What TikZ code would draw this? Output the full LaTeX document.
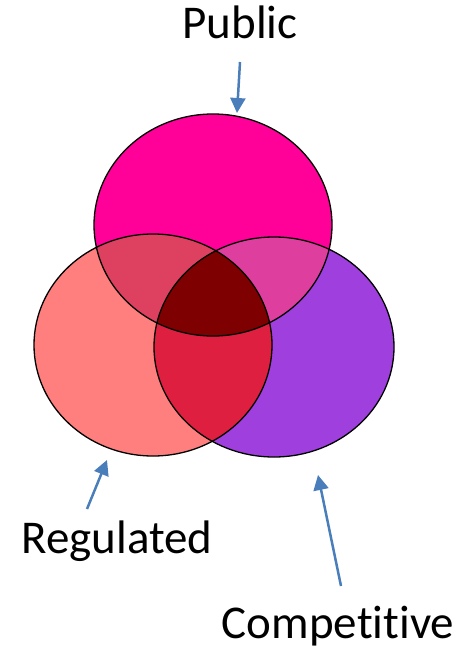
\documentclass[tikz,border=0pt]{standalone}
\usepackage{fontspec}
\setmainfont{Carlito}[Ligatures={NoCommon}]
\usetikzlibrary{arrows.meta}
\definecolor{cTop}{HTML}{FF0099}
\definecolor{cLeft}{HTML}{FF7F7F}
\definecolor{cRight}{HTML}{9E3FDE}
\definecolor{cTL}{HTML}{DE4160}
\definecolor{cTR}{HTML}{DE3F9E}
\definecolor{cLR}{HTML}{DE1F3F}
\definecolor{cAll}{HTML}{7F0000}
\definecolor{arrowblue}{HTML}{4A7EBB}
\tikzset{
  lbl/.style={font=\fontsize{47}{52}\selectfont, text=black, inner sep=0pt},
  pointer/.style={draw=arrowblue, line width=2.5pt, -{Triangle[length=15pt,width=15pt]}},
  outline/.style={draw=black, line width=1.3pt}
}
\begin{document}
\begin{tikzpicture}[x=1pt,y=-1pt]
\useasboundingbox (0,0) rectangle (463,650);
\def\Top{(213,225) ellipse [x radius=119, y radius=111]}
\def\Lft{(153,345) ellipse [x radius=119, y radius=111]}
\def\Rgt{(274,347) ellipse [x radius=120, y radius=110]}
\fill[cTop] \Top;
\fill[cLeft] \Lft;
\fill[cRight] \Rgt;
\begin{scope}
  \clip \Top;
  \fill[cTL] \Lft;
  \fill[cTR] \Rgt;
\end{scope}
\begin{scope}
  \clip \Lft;
  \fill[cLR] \Rgt;
\end{scope}
\begin{scope}
  \clip \Top;
  \clip \Lft;
  \fill[cAll] \Rgt;
\end{scope}
\draw[outline] \Top;
\draw[outline] \Lft;
\draw[outline] \Rgt;
\node[lbl, anchor=base] (pub) at (240,39) {Public};
\node[lbl, anchor=base] (reg) at (117,553) {Regulated};
\node[lbl, anchor=base] (comp) at (338,638) {Competitive};
\coordinate (pubS) at (240,62);
\coordinate (pubE) at (237,113);
\coordinate (regS) at (87,509);
\coordinate (regE) at (107,460);
\coordinate (compS) at (341,586);
\coordinate (compE) at (318,475);
\draw[pointer] (pubS) -- (pubE);
\draw[pointer] (regS) -- (regE);
\draw[pointer] (compS) -- (compE);
\end{tikzpicture}
\end{document}
